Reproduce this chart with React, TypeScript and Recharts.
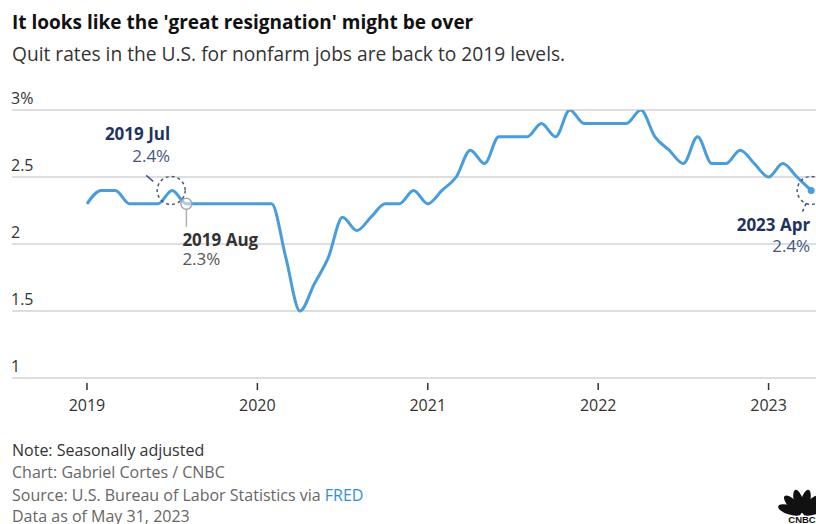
import React from 'react';
import { LineChart, Line, XAxis, YAxis, CartesianGrid } from 'recharts';

const years = ['2019', '2020', '2021', '2022', '2023'];
const monthNames = ['Jan', 'Feb', 'Mar', 'Apr', 'May', 'Jun', 'Jul', 'Aug', 'Sep', 'Oct', 'Nov', 'Dec'];

const quits2019 = [2.3, 2.4, 2.4, 2.3, 2.3, 2.3, 2.4, 2.3, 2.3, 2.3, 2.3, 2.3];
const quits2020 = [2.3, 2.3, 1.9, 1.5, 1.7, 1.9, 2.2, 2.1, 2.2, 2.3, 2.3, 2.4];
const quits2021 = [2.3, 2.4, 2.5, 2.7, 2.6, 2.8, 2.8, 2.8, 2.9, 2.8, 3.0, 2.9];
const quits2022 = [2.9, 2.9, 2.9, 3.0, 2.8, 2.7, 2.6, 2.8, 2.6, 2.6, 2.7, 2.6];
const quits2023 = [2.5, 2.6, 2.5, 2.4];

const yTicks = [1, 1.5, 2, 2.5, 3];
const xTicks = [0, 12, 24, 36, 48];
const xTickLabels = ['2019', '2020', '2021', '2022', '2023'];

const annotations = [
  { index: 6, label: '2019 Jul', value: '2.4%', kind: 'jul' },
  { index: 7, label: '2019 Aug', value: '2.3%', kind: 'aug' },
  { index: 51, label: '2023 Apr', value: '2.4%', kind: 'end' },
];

const allValues = [quits2019, quits2020, quits2021, quits2022, quits2023];
const data: { i: number; month: string; rate: number }[] = [];
allValues.forEach((arr, y) => {
  arr.forEach((v, m) => {
    data.push({ i: y * 12 + m, month: `${years[y]} ${monthNames[m]}`, rate: v });
  });
});

const FONT = '"Open Sans", "Noto Sans", sans-serif';
const LINE = '#4a9ddb';
const NAVY = '#1f3360';
const SLATE = '#46577a';

const renderYTick = (props: any) => {
  const { y, payload } = props;
  const v = payload.value;
  const label = v === 3 ? '3%' : String(v);
  return (
    <text key={`y${v}`} x={11} y={y - 6} fill="#333" fontSize={16} fontFamily={FONT} textAnchor="start">
      {label}
    </text>
  );
};

const renderXTick = (props: any) => {
  const { x, y, payload } = props;
  const idx = xTicks.indexOf(payload.value);
  return (
    <g key={`x${payload.value}`}>
      <line x1={x} x2={x} y1={y + 5} y2={y + 12} stroke="#333" strokeWidth={1.5} />
      <text x={x} y={y + 33} fill="#333" fontSize={16} fontFamily={FONT} textAnchor="middle">
        {xTickLabels[idx]}
      </text>
    </g>
  );
};

const renderDot = (props: any) => {
  const { cx, cy, index } = props;
  const a = annotations.find((d) => d.index === index);
  if (!a || cx == null || cy == null) return <g key={`d${index}`} />;
  if (a.kind === 'jul') {
    return (
      <g key={`d${index}`}>
        <circle cx={cx - 1} cy={cy} r={14} fill="none" stroke={SLATE} strokeWidth={1.5} strokeDasharray="3 3" />
        <line x1={cx - 26} y1={cy - 15} x2={cx - 19} y2={cy - 9} stroke={SLATE} strokeWidth={1.5} />
        <text x={cx - 2} y={cy - 50} fill={NAVY} fontSize={17} fontWeight={700} fontFamily={FONT} textAnchor="end">
          {a.label}
        </text>
        <text x={cx - 2} y={cy - 28} fill={SLATE} fontSize={17} fontFamily={FONT} textAnchor="end">
          {a.value}
        </text>
      </g>
    );
  }
  if (a.kind === 'aug') {
    return (
      <g key={`d${index}`}>
        <circle cx={cx} cy={cy} r={5.5} fill="rgba(255,255,255,0.5)" stroke="#a8a8a8" strokeWidth={1.5} />
        <line x1={cx} y1={cy + 5.5} x2={cx} y2={cy + 23} stroke="#b0b0b0" strokeWidth={1.5} />
        <text x={cx - 4} y={cy + 42} fill="#333" fontSize={17} fontWeight={700} fontFamily={FONT} textAnchor="start">
          {a.label}
        </text>
        <text x={cx - 4} y={cy + 61} fill="#555" fontSize={17} fontFamily={FONT} textAnchor="start">
          {a.value}
        </text>
      </g>
    );
  }
  return (
    <g key={`d${index}`}>
      <circle cx={cx} cy={cy} r={14} fill="none" stroke={SLATE} strokeWidth={1.5} strokeDasharray="3 3" />
      <circle cx={cx} cy={cy} r={3.5} fill={LINE} />
      <line x1={cx - 5} y1={cy + 13} x2={cx - 9.5} y2={cy + 23} stroke={SLATE} strokeWidth={1.5} strokeDasharray="3 3" />
      <text x={cx - 1} y={cy + 41} fill={NAVY} fontSize={17} fontWeight={700} fontFamily={FONT} textAnchor="end">
        {a.label}
      </text>
      <text x={cx - 1} y={cy + 62} fill={SLATE} fontSize={17} fontFamily={FONT} textAnchor="end">
        {a.value}
      </text>
    </g>
  );
};

const Peacock = () => {
  const ox = 802;
  const oy = 514;
  const angles = [-72, -44, -15, 15, 44, 72];
  return (
    <g>
      {angles.map((a) => (
        <ellipse
          key={a}
          cx={ox}
          cy={oy - 13}
          rx={4.6}
          ry={12}
          fill="#111"
          transform={`rotate(${a} ${ox} ${oy})`}
        />
      ))}
      <text x={ox} y={523} fontSize={9.5} fontWeight={900} fontFamily="Arial, sans-serif" fill="#111" textAnchor="middle">
        CNBC
      </text>
    </g>
  );
};

export default function App() {
  return (
    <div style={{ position: 'absolute', left: 0, top: 0, width: 816, height: 524, background: '#fff', overflow: 'hidden' }}>
      <div style={{ position: 'absolute', left: 0, top: 0 }}>
        <LineChart width={816} height={524} data={data} margin={{ top: 110, right: 0, bottom: 116, left: 11 }}>
          <CartesianGrid vertical={false} stroke="#dedede" strokeWidth={2} />
          <XAxis
            dataKey="i"
            type="number"
            domain={[-5.28, 51.34]}
            ticks={xTicks}
            tick={renderXTick}
            axisLine={false}
            tickLine={false}
            tickSize={0}
            tickMargin={0}
            height={30}
            allowDataOverflow
          />
          <YAxis
            domain={[1, 3]}
            ticks={yTicks}
            tick={renderYTick}
            axisLine={false}
            tickLine={false}
            width={1}
            allowDataOverflow
          />
          <Line
            type="monotone"
            dataKey="rate"
            stroke={LINE}
            strokeWidth={3}
            dot={renderDot}
            activeDot={false}
            isAnimationActive={false}
          />
        </LineChart>
      </div>
      <svg width={816} height={524} style={{ position: 'absolute', left: 0, top: 0, pointerEvents: 'none' }}>
        <text x={12} y={29} fontSize={19} fontWeight={700} fill="#111" fontFamily={FONT}>
          It looks like the 'great resignation' might be over
        </text>
        <text x={12} y={61} fontSize={19.2} fill="#333" fontFamily={FONT}>
          Quit rates in the U.S. for nonfarm jobs are back to 2019 levels.
        </text>
        <text x={12} y={456} fontSize={16} fill="#333" fontFamily={FONT}>
          Note: Seasonally adjusted
        </text>
        <text x={12} y={478} fontSize={16} fill="#666" fontFamily={FONT}>
          Chart: Gabriel Cortes / CNBC
        </text>
        <text x={12} y={501} fontSize={16} fill="#666" fontFamily={FONT}>
          Source: U.S. Bureau of Labor Statistics via <tspan fill="#2f8fd8">FRED</tspan>
        </text>
        <text x={12} y={522} fontSize={16} fill="#666" fontFamily={FONT}>
          Data as of May 31, 2023
        </text>
        <Peacock />
      </svg>
    </div>
  );
}
